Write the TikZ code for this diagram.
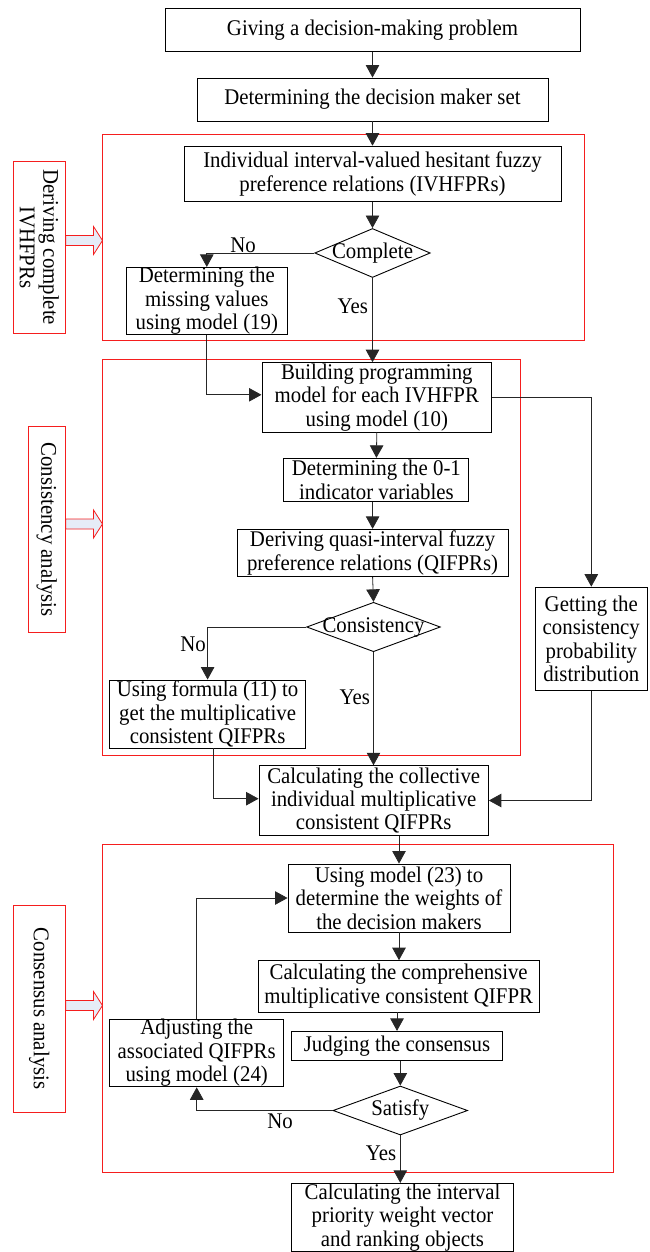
\documentclass[tikz,border=0pt]{standalone}
\usepackage{fontspec}
\setmainfont{Liberation Serif}[FakeStretch=0.93]
\usetikzlibrary{shapes.geometric,arrows.meta}
\definecolor{hollowfill}{RGB}{230,236,247}
\definecolor{frame}{RGB}{245,30,30}
\begin{document}
\begin{tikzpicture}[x=1pt,y=-1pt,
  txt/.style={font=\fontsize{22.4}{23.4}\selectfont},
  box/.style={txt,draw=black,line width=0.9pt,inner sep=0pt,align=center},
  dia/.style={draw=black,line width=0.9pt,diamond,inner sep=0pt},
  lbl/.style={txt,inner sep=0pt},
  side/.style={txt,draw=frame,line width=0.9pt,fill=white,inner sep=0pt,align=center,rotate=-90},
  redframe/.style={draw=frame,line width=0.9pt},
  hollow/.style={draw=frame,line width=0.8pt,fill=hollowfill},
  conn/.style={draw=black!85,line width=0.8pt,-{Triangle[length=12.5pt,width=13.5pt]}},
  plain/.style={draw=black!85,line width=0.8pt}
]
\useasboundingbox (0,0) rectangle (649,1252);

% red frames
\draw[redframe] (102.5,134) rectangle (584,340.7);
\draw[redframe] (102.5,359) rectangle (520.7,755);
\draw[redframe] (102.5,844.7) rectangle (613.3,1172.7);

% side labels
\node[side,minimum width=171.3pt,minimum height=52.6pt] (L1) at (39.3,247.4) {Deriving complete\\IVHFPRs};
\node[side,minimum width=206pt,minimum height=37.6pt] (L2) at (46.8,529.7) {Consistency analysis};
\node[side,minimum width=206.7pt,minimum height=52.6pt] (L3) at (39.3,1008.7) {Consensus analysis};

% hollow arrows
\draw[hollow] (65.6,235.5) -- (93.5,235.5) -- (93.5,226.5) -- (102.5,240.5) -- (93.5,254.5) -- (93.5,245.5) -- (65.6,245.5) -- cycle;
\draw[hollow] (65.6,519) -- (93.5,519) -- (93.5,510) -- (102.5,524) -- (93.5,538) -- (93.5,529) -- (65.6,529) -- cycle;
\draw[hollow] (65.6,1000.5) -- (93.5,1000.5) -- (93.5,991.5) -- (102.5,1005.5) -- (93.5,1019.5) -- (93.5,1010.5) -- (65.6,1010.5) -- cycle;

% boxes
\node[box,minimum width=415pt,minimum height=43.4pt] (give) at (372.5,30) {Giving a decision-making problem};
\node[box,minimum width=351pt,minimum height=43pt] (dms) at (372.5,99.5) {Determining the decision maker set};
\node[box,minimum width=377pt,minimum height=55.7pt] (ind) at (372.5,174) {Individual interval-valued hesitant fuzzy\\preference relations (IVHFPRs)};
\node[dia,minimum width=115.5pt,minimum height=49pt,label={[lbl]center:Complete}] (comp) at (372.5,253) {};
\node[box,minimum width=160.4pt,minimum height=64pt] (miss) at (206.8,301) {Determining the\\missing values\\using model (19)};
\node[box,minimum width=229.7pt,minimum height=69.3pt] (build) at (376.8,397.3) {Building programming\\model for each IVHFPR\\using model (10)};
\node[box,minimum width=185pt,minimum height=43.4pt] (ind01) at (376.4,480) {Determining the 0-1\\indicator variables};
\node[box,minimum width=270.7pt,minimum height=47.4pt] (deriv) at (372.6,553) {Deriving quasi-interval fuzzy\\preference relations (QIFPRs)};
\node[dia,minimum width=133.7pt,minimum height=49.4pt,label={[lbl]center:Consistency}] (cons) at (373.5,627) {};
\node[box,minimum width=196.3pt,minimum height=68pt] (form) at (207.6,714) {Using formula (11) to\\get the multiplicative\\consistent QIFPRs};
\node[box,minimum width=111.3pt,minimum height=103.7pt] (get) at (591.3,639) {Getting the\\consistency\\probability\\distribution};
\node[box,minimum width=229.4pt,minimum height=69.6pt] (coll) at (373.7,800.5) {Calculating the collective\\individual multiplicative\\consistent QIFPRs};
\node[box,minimum width=222pt,minimum height=68pt] (m23) at (399,898) {Using model (23) to\\determine the weights of\\the decision makers};
\node[box,minimum width=281.4pt,minimum height=51.3pt] (compr) at (398.7,986.3) {Calculating the comprehensive\\multiplicative consistent QIFPR};
\node[box,minimum width=210.8pt,minimum height=28.7pt] (judge) at (397,1045.7) {Judging the consensus};
\node[dia,minimum width=134.6pt,minimum height=49pt,label={[lbl]center:Satisfy}] (sat) at (400.3,1110.5) {};
\node[box,minimum width=174.3pt,minimum height=67.7pt] (adj) at (196.7,1053) {Adjusting the\\associated QIFPRs\\using model (24)};
\node[box,minimum width=221.6pt,minimum height=68.4pt] (fin) at (402.5,1217.5) {Calculating the interval\\priority weight vector\\and ranking objects};

% connector labels
\node[lbl] (no1) at (243,245) {No};
\node[lbl] (yes1) at (352.7,306.7) {Yes};
\node[lbl] (no2) at (193,644) {No};
\node[lbl] (yes2) at (354.8,697.3) {Yes};
\node[lbl] (no3) at (280,1121.7) {No};
\node[lbl] (yes3) at (381,1153.3) {Yes};

% connectors
\draw[conn] (give.south) -- (give.south |- dms.north);
\draw[conn] (dms.south -| ind.north) -- (ind.north);
\draw[conn] (ind.south) -- (comp.north);
\draw[conn] (comp.west) -| (miss.north);
\draw[conn] (comp.south) -- (comp.south |- build.north);
\draw[conn] (miss.south) |- ([yshift=2.5pt]build.west);
\draw[conn] (build.east) -| (get.north);
\draw[conn] (build.south) -- (ind01.north);
\draw[conn] (ind01.south -| deriv.north) -- (deriv.north);
\draw[conn] (deriv.south) -- (cons.north);
\draw[conn] (cons.west) -| (form.north);
\draw[conn] (cons.south) -- (cons.south |- coll.north);
\draw[conn] ([xshift=6pt]form.south) |- ([yshift=1.8pt]coll.west);
\draw[conn] (get.south) |- (coll.east);
\draw[conn] (coll.south -| m23.north) -- (m23.north);
\draw[conn] (m23.south) -- (m23.south |- compr.north);
\draw[conn] (compr.south -| judge.north) -- (judge.north);
\draw[conn] (judge.south -| sat.north) -- (sat.north);
\draw[conn] (sat.west) -| (adj.south);
\draw[conn] (adj.north) |- (m23.west);
\draw[conn] (sat.south) -- (sat.south |- fin.north);
\end{tikzpicture}
\end{document}
